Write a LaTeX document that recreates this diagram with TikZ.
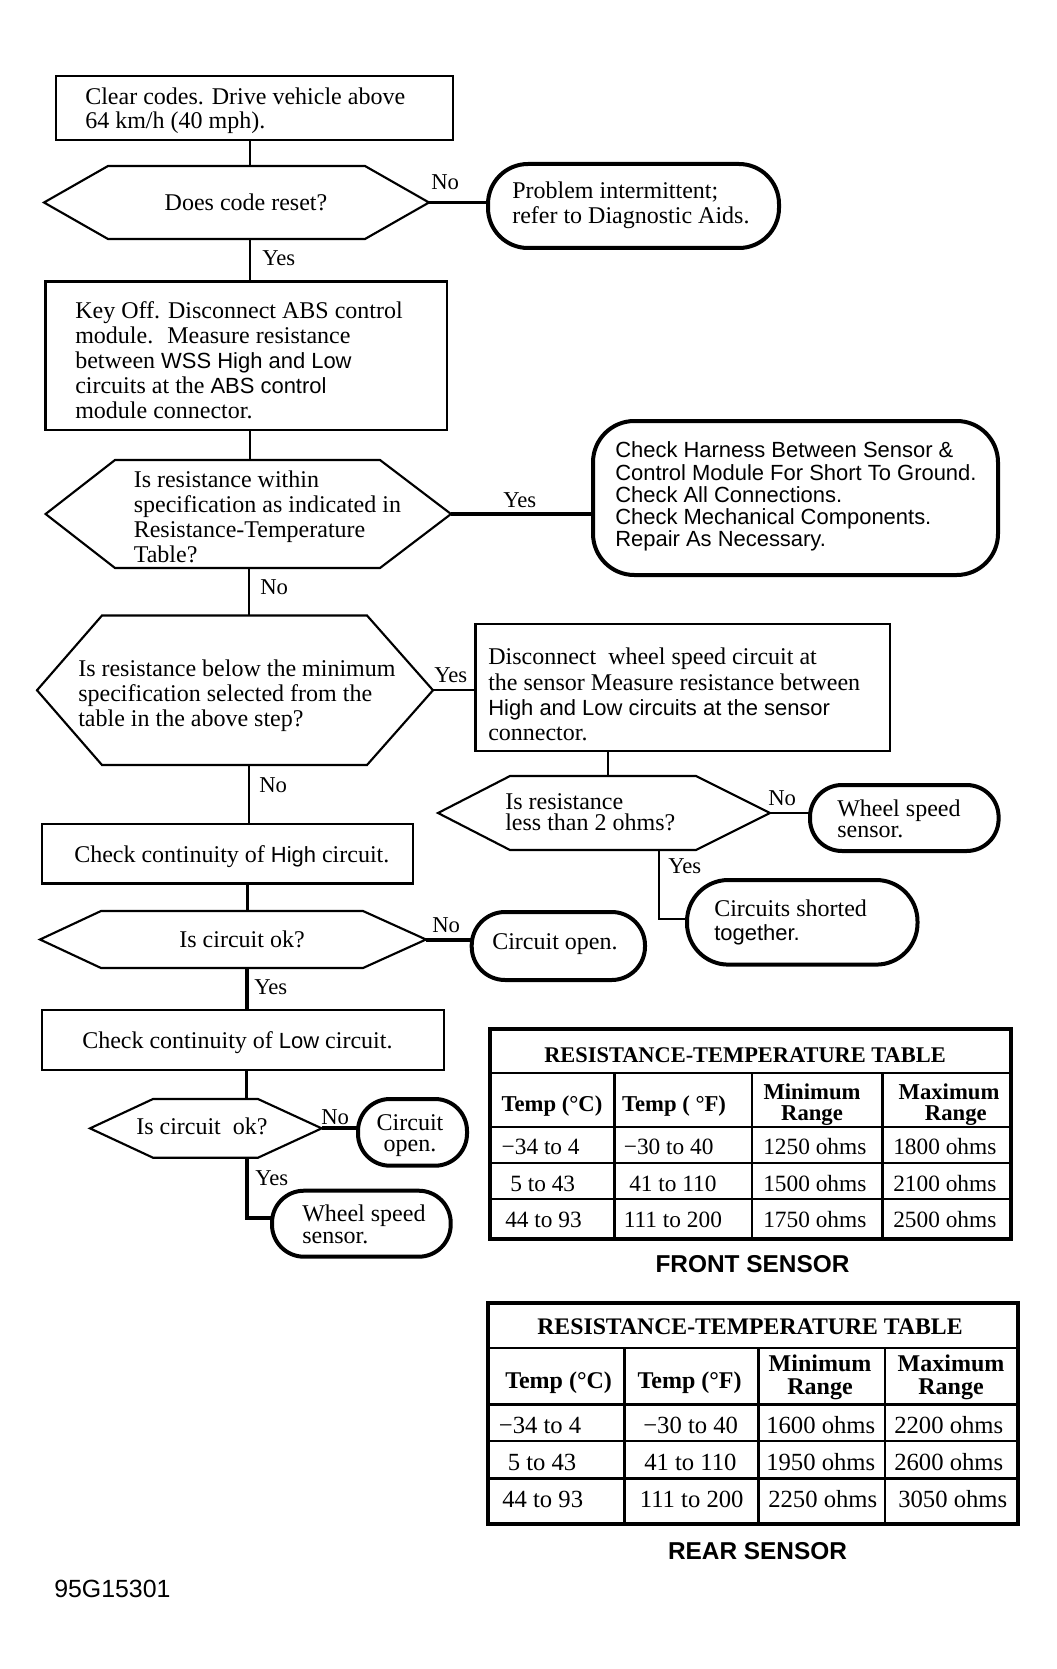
\documentclass[tikz,border=0pt]{standalone}
\usepackage{fontspec}
\setmainfont{Liberation Serif}
\setsansfont{Liberation Sans}[Scale=0.915]
\usetikzlibrary{calc}
\newcommand{\shapenode}[6]{%
  \node[#6, inner sep=0pt, outer sep=0pt, minimum width={(#4-#2)*0.75pt}, minimum height={(#5-#3)*0.75pt}] (#1) at ({(#2+#4)/2},{(#3+#5)/2}) {};}
\newcommand{\hexdraw}[3]{%
  \draw[line width=1.6pt, line join=miter] (#1.west) -- ($(#1.north west)+(#2,0)$) -- ($(#1.north east)+(-#3,0)$) -- (#1.east) -- ($(#1.south east)+(-#3,0)$) -- ($(#1.south west)+(#2,0)$) -- cycle;}
\newcommand{\sff}[1]{{\sffamily #1}}
\newcommand{\fs}[1]{\fontsize{18}{#1}\selectfont}
\begin{document}
\begin{tikzpicture}[x=0.75pt,y=-0.75pt,
  box/.style={draw, line width=1.8pt},
  hexn/.style={},
  ovalbox/.style={draw, line width=3pt},
  conn/.style={line width=1.6pt},
  thk/.style={line width=3pt},
  txt/.style={anchor=west, align=left, inner sep=0pt},
  lbl/.style={anchor=west, inner sep=0pt, font=\fontsize{17}{18}\selectfont},
  cella/.style={anchor=west, inner sep=0pt, font=\fontsize{17.5}{18}\selectfont},
  cellb/.style={anchor=west, inner sep=0pt, font=\fontsize{18.5}{19}\selectfont},
  hcell/.style={anchor=center, align=center, inner sep=0pt},
  tbo/.style={line width=3pt},
  tbi/.style={line width=2.2pt}]
\useasboundingbox (0,0) rectangle (1056,1669);

% ---------- shapes ----------
\shapenode{b1}{56}{76}{453}{140}{box}
\shapenode{h1}{44}{166}{429}{239}{hexn}
\shapenode{o1}{488}{164}{779}{248}{ovalbox, rounded corners=30pt}
\shapenode{b2}{45.6}{281.6}{447}{430}{box}
\shapenode{h2}{45.6}{460}{451}{568}{hexn}
\shapenode{rb}{593}{421}{998}{575}{ovalbox, rounded corners=31pt}
\shapenode{h3}{37}{615.5}{433}{765}{hexn}
\shapenode{b3}{475.5}{624}{890}{751}{box}
\shapenode{h4}{438}{776}{770}{850}{hexn}
\shapenode{o4}{810}{785}{998.6}{851}{ovalbox, rounded corners=24pt}
\shapenode{o5}{687}{880}{917.5}{964.6}{ovalbox, rounded corners=31pt}
\shapenode{b4}{42}{824}{413}{883.6}{box}
\shapenode{h5}{40}{911}{426}{968}{hexn}
\shapenode{co1}{471.7}{912}{645}{980}{ovalbox, rounded corners=25pt}
\shapenode{b5}{42}{1010}{444}{1070}{box}
\shapenode{h6}{90}{1099}{321.7}{1157.7}{hexn}
\shapenode{co2}{358}{1099}{467}{1165.7}{ovalbox, rounded corners=24pt}
\shapenode{o3}{272}{1190.7}{450.7}{1256.7}{ovalbox, rounded corners=24pt}

\hexdraw{h1}{64}{64}
\hexdraw{h2}{69.4}{71}
\hexdraw{h3}{65}{66}
\hexdraw{h4}{72}{74}
\hexdraw{h5}{61}{63}
\hexdraw{h6}{63}{63.7}

% ---------- texts ----------
\node[txt, font=\fs{17.8}] (tb1) at (85,111) {Clear codes. Drive vehicle above\\64 km/h (40 mph).};
\node[anchor=center, inner sep=0pt, font=\fs{18}] (th1) at (246,202) {Does code reset?};
\node[txt, font=\fs{18.75}] (to1) at (512,205.5) {Problem intermittent;\\refer to Diagnostic Aids.};
\node[txt, font=\fs{18.75}] (tb2) at (75,360) {Key Off. Disconnect ABS control\\module.~ Measure resistance\\between \sff{WSS High and Low}\\circuits at the \sff{ABS control}\\module connector.};
\node[txt, font=\fs{18.75}] (th2) at (133.5,517) {Is resistance within\\specification as indicated in\\Resistance-Temperature\\Table?};
\node[txt, font=\sffamily\fs{16.7}] (trb) at (615,496.6) {Check Harness Between Sensor \&\\Control Module For Short To Ground.\\Check All Connections.\\Check Mechanical Components.\\Repair As Necessary.};
\node[txt, font=\fs{18.75}] (th3) at (78,696) {Is resistance below the minimum\\specification selected from the\\table in the above step?};
\node[txt, font=\fs{19}] (tb3) at (488,694.6) {Disconnect~ wheel speed circuit at\\the sensor Measure resistance between\\\sff{High and Low circuits at the sensor}\\connector.};
\node[txt, font=\fs{15.75}] (th4) at (505,812.5) {Is resistance\\less than 2 ohms?};
\node[txt, font=\fs{16.1}] (to4) at (837,818.7) {Wheel speed\\sensor.};
\node[txt, font=\fs{18}] (to5) at (714,922) {Circuits shorted\\\sff{together.}};
\node[txt, font=\fs{18}] (tb4) at (74,857) {Check continuity of \sff{High} circuit.};
\node[anchor=center, inner sep=0pt, font=\fs{18}] (th5) at (242,939) {Is circuit ok?};
\node[txt, font=\fs{18}] (tco1) at (492,943.6) {Circuit open.};
\node[txt, font=\fs{18}] (tb5) at (82,1042.5) {Check continuity of \sff{Low} circuit.};
\node[txt, font=\fs{18}] (th6) at (136,1126) {Is circuit~ ok?};
\node[anchor=center, align=center, inner sep=0pt, font=\fs{15.75}] (tco2) at (410,1135.5) {Circuit\\open.};
\node[txt, font=\fs{16.5}] (to3) at (302,1224) {Wheel speed\\sensor.};

% ---------- connectors ----------
\coordinate (v1) at (250,0);
\coordinate (v2) at (249,0);
\coordinate (v3) at (247.5,0);
\coordinate (v4) at (246.5,0);
\coordinate (v5) at (608,0);
\coordinate (c4) at (659,918.7);
\coordinate (c6) at (246.5,1218);

\draw[conn] (b1.south -| v1) -- (h1.north -| v1);
\draw[conn] (h1.south -| v1) -- (b2.north -| v1);
\draw[conn] (b2.south -| v1) -- (h2.north -| v1);
\draw[conn] (h2.south -| v2) -- (h3.north -| v2);
\draw[conn] (h3.south -| v2) -- (b4.north -| v2);
\draw[conn] (b4.south -| v3) -- (h5.north -| v3);
\draw[thk] (h5.south -| v4) -- (b5.north -| v4);
\draw[conn] (b5.south -| v4) -- (h6.north -| v4);
\draw[thk] (h6.south -| c6) -- (c6) -- (c6 -| o3.west);
\draw[conn] (b3.south -| v5) -- (h4.north -| v5);
\draw[conn] (h4.south -| c4) -- (c4) -- (c4 -| o5.west);

\draw[conn] (h1.east) -- (h1.east -| o1.west);
\draw[thk] (h2.east) -- (h2.east -| rb.west);
\draw[conn] (h3.east) -- (h3.east -| b3.west);
\draw[conn] (h4.east) -- (h4.east -| o4.west);
\draw[thk] (h5.east) -- (h5.east -| co1.west);
\draw[thk] (h6.east) -- (h6.east -| co2.west);

% ---------- labels ----------
\node[lbl] (l1) at (431,182) {No};
\node[lbl] (l2) at (262,258.6) {Yes};
\node[lbl] (l3) at (503,500) {Yes};
\node[lbl] (l4) at (260,587) {No};
\node[lbl] (l5) at (434,675) {Yes};
\node[lbl] (l6) at (259,785.5) {No};
\node[lbl] (l7) at (768,798) {No};
\node[lbl] (l8) at (668,866) {Yes};
\node[lbl] (l9) at (432,925.5) {No};
\node[lbl] (l10) at (254,987) {Yes};
\node[lbl] (l11) at (321,1117) {No};
\node[lbl] (l12) at (255,1178) {Yes};

% ---------- table 1 ----------
\draw[tbo] (490,1029) rectangle (1011,1238.6);
\draw[tbi] (490,1073) -- (1011,1073);
\draw[tbi] (490,1127) -- (1011,1127);
\draw[tbi] (490,1163) -- (1011,1163);
\draw[tbi] (490,1199) -- (1011,1199);
\draw[tbi] (614.6,1073) -- (614.6,1238.6);
\draw[tbi] (752,1073) -- (752,1238.6);
\draw[tbi] (882.5,1073) -- (882.5,1238.6);
\node[hcell, font=\bfseries\fontsize{16.8}{18}\selectfont] (f0) at (745,1055) {RESISTANCE-TEMPERATURE TABLE};
\node[hcell, font=\bfseries\fontsize{17}{16}\selectfont] (fh1) at (552,1106) {Temp (°C)};
\node[hcell, font=\bfseries\fontsize{17}{16}\selectfont] (fh2) at (674,1106) {Temp ( °F)};
\node[hcell, font=\bfseries\fontsize{17}{16}\selectfont] (fh3) at (812,1104.5) {Minimum\\Range};
\node[hcell, font=\bfseries\fontsize{17}{16}\selectfont] (fh4) at (949,1104.5) {Maximum\\\hspace*{0.6em}Range};
\node[cella] (f11) at (501.4,1147) {−34 to 4};
\node[cella] (f12) at (623.6,1147) {−30 to 40};
\node[cella] (f13) at (763,1147) {1250 ohms};
\node[cella] (f14) at (893,1147) {1800 ohms};
\node[cella] (f21) at (510,1184) {5 to 43};
\node[cella] (f22) at (629,1184) {41 to 110};
\node[cella] (f23) at (763,1184) {1500 ohms};
\node[cella] (f24) at (893,1184) {2100 ohms};
\node[cella] (f31) at (505,1219.6) {44 to 93};
\node[cella] (f32) at (623.6,1219.6) {111 to 200};
\node[cella] (f33) at (763,1219.6) {1750 ohms};
\node[cella] (f34) at (893,1219.6) {2500 ohms};
\node[anchor=center, inner sep=0pt, font=\sffamily\bfseries\fontsize{20}{21}\selectfont] (fcap) at (752.5,1264) {FRONT SENSOR};

% ---------- table 2 ----------
\draw[tbo] (488,1303) rectangle (1018,1524);
\draw[tbi] (488,1348) -- (1018,1348);
\draw[tbi] (488,1404.6) -- (1018,1404.6);
\draw[tbi] (488,1441) -- (1018,1441);
\draw[tbi] (488,1478.6) -- (1018,1478.6);
\draw[tbi] (624.6,1348) -- (624.6,1524);
\draw[tbi] (758.6,1348) -- (758.6,1524);
\draw[tbi] (885,1348) -- (885,1524);
\node[hcell, font=\bfseries\fontsize{17.8}{18}\selectfont] (r0) at (750,1327) {RESISTANCE-TEMPERATURE TABLE};
\node[hcell, font=\bfseries\fontsize{18}{17.25}\selectfont] (rh1) at (558.6,1383) {Temp (°C)};
\node[hcell, font=\bfseries\fontsize{18}{17.25}\selectfont] (rh2) at (689.6,1383) {Temp (°F)};
\node[hcell, font=\bfseries\fontsize{18}{17.25}\selectfont] (rh3) at (820,1377.5) {Minimum\\Range};
\node[hcell, font=\bfseries\fontsize{18}{17.25}\selectfont] (rh4) at (951,1377.5) {Maximum\\Range};
\node[cellb] (r11) at (498.6,1425) {−34 to 4};
\node[cellb] (r12) at (643,1425) {−30 to 40};
\node[cellb] (r13) at (766,1425) {1600 ohms};
\node[cellb] (r14) at (894,1425) {2200 ohms};
\node[cellb] (r21) at (507.5,1462.5) {5 to 43};
\node[cellb] (r22) at (644,1462.5) {41 to 110};
\node[cellb] (r23) at (766,1462.5) {1950 ohms};
\node[cellb] (r24) at (894,1462.5) {2600 ohms};
\node[cellb] (r31) at (502,1499) {44 to 93};
\node[cellb] (r32) at (639.6,1499) {111 to 200};
\node[cellb] (r33) at (768,1499) {2250 ohms};
\node[cellb] (r34) at (898,1499) {3050 ohms};
\node[anchor=center, inner sep=0pt, font=\sffamily\bfseries\fontsize{20}{21}\selectfont] (rcap) at (757.5,1551) {REAR SENSOR};

\node[anchor=west, inner sep=0pt, font=\sffamily\fontsize{20.4}{21}\selectfont] (code) at (54,1588.5) {95G15301};
\end{tikzpicture}
\end{document}
